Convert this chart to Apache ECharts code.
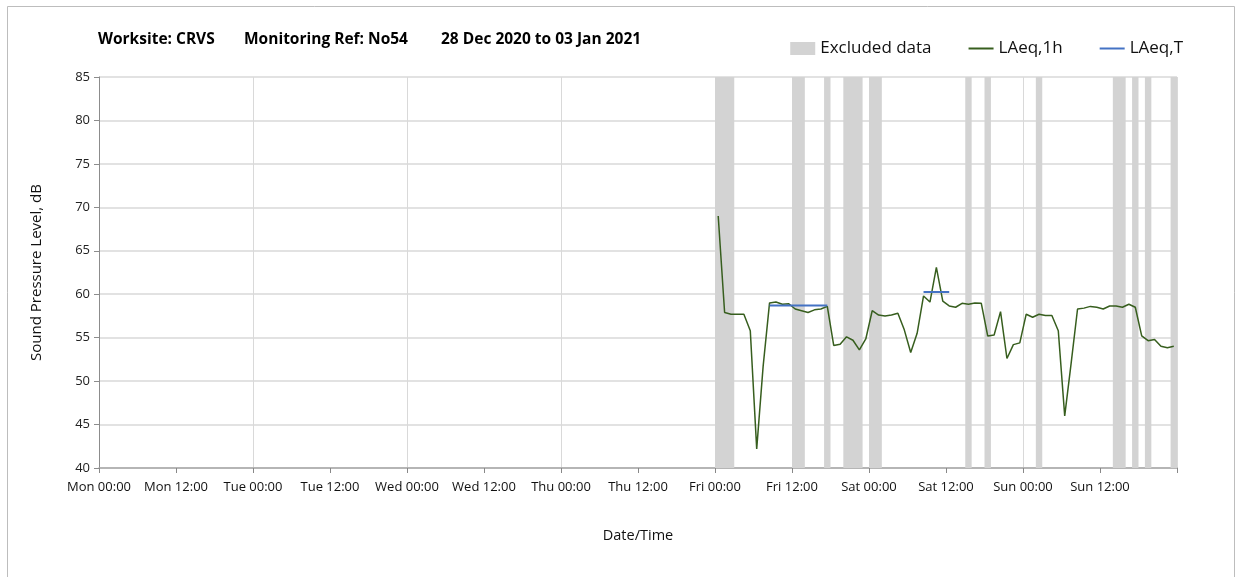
<!DOCTYPE html>
<html>
<head>
<meta charset="utf-8">
<script src="https://cdn.jsdelivr.net/npm/echarts@6/dist/echarts.min.js"></script>
<style>
  html, body { margin: 0; padding: 0; background: #fff; }
  #chart { width: 1236px; height: 577px; }
</style>
</head>
<body>
<div id="chart"></div>
<script>
// hours from Mon 00:00, first hourly value plotted at mid-hour
const firstHour = 96.5
const laeq1h = [
  69.0, 57.9, 57.7, 57.7, 57.7, 55.8, 42.2, 51.7, 59.0, 59.1,
  58.85, 58.9, 58.3, 58.1, 57.9, 58.2, 58.3, 58.6, 54.1, 54.25,
  55.1, 54.7, 53.6, 54.85, 58.1, 57.6, 57.5, 57.6, 57.8, 55.9,
  53.3, 55.5, 59.8, 59.1, 63.1,
  59.2, 58.65, 58.5, 58.95, 58.85, 59.0, 58.95, 55.2, 55.3, 58.0,
  52.6, 54.2, 54.4, 57.7, 57.35, 57.7, 57.55, 57.55, 55.8, 46.0,
  52.05, 58.3, 58.4, 58.6, 58.5, 58.3, 58.65, 58.65, 58.5, 58.85,
  58.5, 55.2, 54.65, 54.8, 54.0, 53.85, 54.0
]

// LAeq,T periods
const periodStart = [104.5, 128.5]
const periodEnd = [113.5, 132.5]
const periodLevel = [58.7, 60.25]

// excluded data windows (hours from Mon 00:00)
const excludedStart = [96, 108, 113, 116, 120, 135, 138, 146, 158, 161, 163, 167]
const excludedEnd = [99, 110, 114, 119, 122, 136, 139, 147, 160, 162, 164, 168]

const dayNames = ['Mon', 'Tue', 'Wed', 'Thu', 'Fri', 'Sat', 'Sun']
const yTicks = [40, 45, 50, 55, 60, 65, 70, 75, 80, 85]

const lineData = laeq1h.map((v, i) => [firstHour + i, v])

const periodData = []
periodStart.forEach((s, i) => {
  if (i > 0) periodData.push([s - 1, '-'])
  periodData.push([s, periodLevel[i]])
  periodData.push([periodEnd[i], periodLevel[i]])
})

const excludedAreas = excludedStart.map((s, i) => [
  { xAxis: s },
  { xAxis: excludedEnd[i] },
])

const font = 'Open Sans'
const chart = echarts.init(document.getElementById('chart'))

chart.setOption({
  animation: false,
  backgroundColor: '#fff',
  textStyle: { fontFamily: font },
  graphic: [
    {
      type: 'rect',
      shape: { x: 7.5, y: 6.5, width: 1227, height: 580 },
      style: { fill: 'none', stroke: '#bdbdbd', lineWidth: 1 },
      silent: true,
    },
  ],
  title: [
    { text: 'Worksite: CRVS', left: 98, top: 32 },
    { text: 'Monitoring Ref: No54', left: 244, top: 32 },
    { text: '28 Dec 2020 to 03 Jan 2021', left: 441, top: 32 },
  ].map((t) => ({
    ...t,
    padding: 0,
    textStyle: { fontFamily: font, fontSize: 15.5, fontWeight: 'bold', color: '#000' },
  })),
  legend: {
    right: 48,
    top: 35,
    padding: 5,
    itemWidth: 25,
    itemHeight: 13,
    itemGap: 36,
    textStyle: { fontFamily: font, fontSize: 17, color: '#111' },
    data: [
      { name: 'Excluded data', icon: 'rect' },
      { name: 'LAeq,1h', itemStyle: { opacity: 0 } },
      { name: 'LAeq,T', itemStyle: { opacity: 0 } },
    ],
  },
  grid: { left: 99, right: 59, top: 77, bottom: 109 },
  xAxis: [
    {
      type: 'value',
      min: 0,
      max: 168,
      interval: 12,
      name: 'Date/Time',
      nameLocation: 'middle',
      nameGap: 60,
      nameTextStyle: { fontSize: 14.5, color: '#111' },
      axisLine: { lineStyle: { color: '#a6a6a6', width: 1.5 } },
      axisTick: { length: 5, lineStyle: { color: '#888' } },
      axisLabel: {
        fontSize: 13,
        color: '#111',
        margin: 13,
        formatter: (v) => {
          if (v >= 168) return ''
          const d = Math.floor(v / 24)
          const h = v % 24
          return dayNames[d] + ' ' + String(h).padStart(2, '0') + ':00'
        },
      },
      splitLine: { show: false },
    },
    {
      // daily vertical gridlines only
      type: 'value',
      min: 0,
      max: 168,
      interval: 24,
      position: 'bottom',
      axisLine: { show: false },
      axisTick: { show: false },
      axisLabel: { show: false },
      splitLine: { show: true, lineStyle: { color: '#d9d9d9', width: 1 } },
    },
  ],
  yAxis: {
    type: 'value',
    min: yTicks[0],
    max: yTicks[yTicks.length - 1],
    interval: 5,
    name: 'Sound Pressure Level, dB',
    nameLocation: 'middle',
    nameGap: 55,
    nameTextStyle: { fontSize: 15, color: '#111' },
    axisLine: { show: true, lineStyle: { color: '#8c8c8c' } },
    axisTick: { show: true, length: 5, lineStyle: { color: '#8c8c8c' } },
    axisLabel: { fontSize: 13, color: '#222', margin: 9 },
    splitLine: { lineStyle: { color: '#d9d9d9', width: 1.5 } },
  },
  series: [
    {
      name: 'Excluded data',
      type: 'line',
      data: [],
      z: 1,
      itemStyle: { color: '#d3d3d3' },
      lineStyle: { color: '#d3d3d3' },
      markArea: {
        silent: true,
        itemStyle: { color: '#d3d3d3' },
        data: excludedAreas,
      },
    },
    {
      name: 'LAeq,1h',
      type: 'line',
      data: lineData,
      symbol: 'none',
      z: 3,
      itemStyle: { color: '#375e1e' },
      lineStyle: { color: '#375e1e', width: 1.5 },
    },
    {
      name: 'LAeq,T',
      type: 'line',
      data: periodData,
      symbol: 'none',
      connectNulls: false,
      z: 4,
      itemStyle: { color: '#4472c4' },
      lineStyle: { color: '#4472c4', width: 2 },
    },
  ],
})
</script>
</body>
</html>
